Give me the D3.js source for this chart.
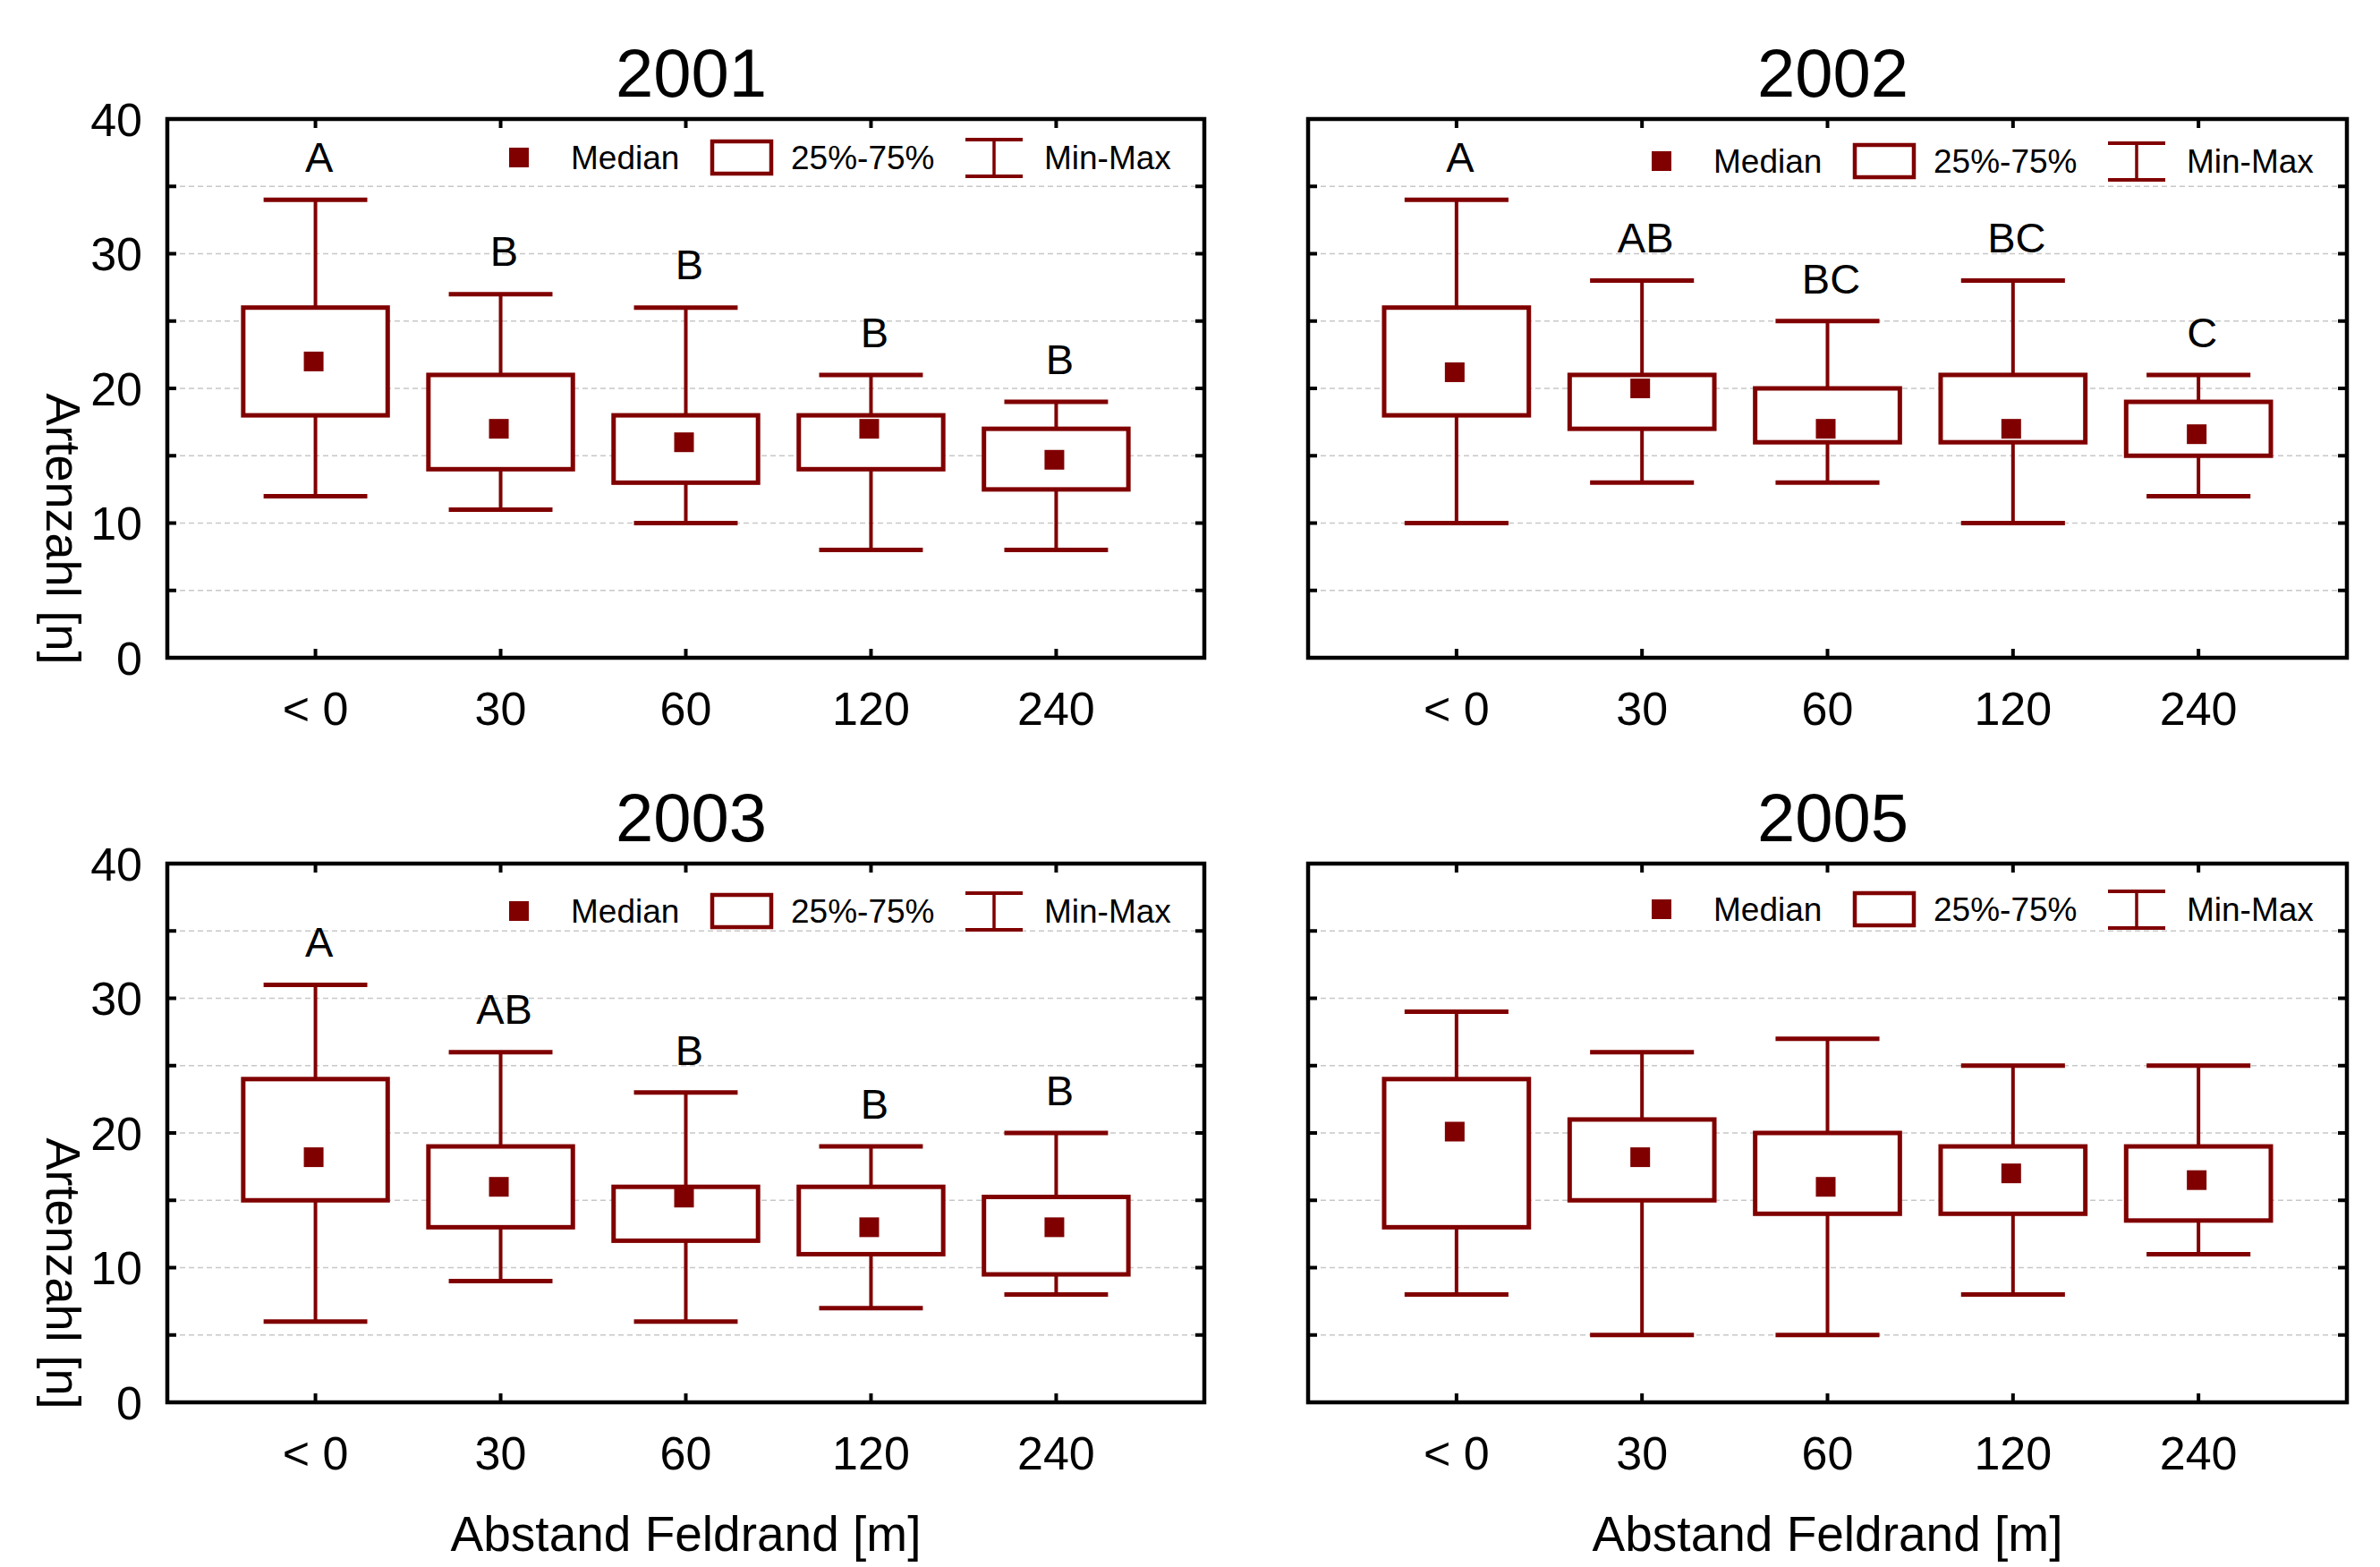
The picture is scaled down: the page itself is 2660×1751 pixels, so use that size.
<!DOCTYPE html>
<html>
<head>
<meta charset="utf-8">
<script src="https://cdn.jsdelivr.net/npm/d3@7/dist/d3.min.js"></script>
<style>
  html, body { margin: 0; padding: 0; background: #fff; }
  svg text { font-family: "Liberation Sans", Arial, sans-serif; fill: #000; }
</style>
</head>
<body>
<script>
// ---------------- DATA ----------------
const categories = ["< 0", "30", "60", "120", "240"];
const years = ["2001", "2002", "2003", "2005"];

const min2001 = [12, 11, 10, 8, 8];
const q1_2001 = [18, 14, 13, 14, 12.5];
const med2001 = [22, 17, 16, 17, 14.7];
const q3_2001 = [26, 21, 18, 18, 17];
const max2001 = [34, 27, 26, 21, 19];
const letters2001 = ["A", "B", "B", "B", "B"];

const min2002 = [10, 13, 13, 10, 12];
const q1_2002 = [18, 17, 16, 16, 15];
const med2002 = [21.2, 20, 17, 17, 16.6];
const q3_2002 = [26, 21, 20, 21, 19];
const max2002 = [34, 28, 25, 28, 21];
const letters2002 = ["A", "AB", "BC", "BC", "C"];

const min2003 = [6, 9, 6, 7, 8];
const q1_2003 = [15, 13, 12, 11, 9.5];
const med2003 = [18.2, 16, 15.2, 13, 13];
const q3_2003 = [24, 19, 16, 16, 15.25];
const max2003 = [31, 26, 23, 19, 20];
const letters2003 = ["A", "AB", "B", "B", "B"];

const min2005 = [8, 5, 5, 8, 11];
const q1_2005 = [13, 15, 14, 14, 13.5];
const med2005 = [20.1, 18.2, 16, 17, 16.5];
const q3_2005 = [24, 21, 20, 19, 19];
const max2005 = [29, 26, 27, 25, 25];
const letters2005 = ["", "", "", "", ""];

const yTicks = [0, 10, 20, 30, 40];
const gridValues = [5, 10, 15, 20, 25, 30, 35];
const legendLabels = ["Median", "25%-75%", "Min-Max"];
const yLabel = "Artenzahl [n]";
const xLabel = "Abstand Feldrand [m]";

// ---------------- LAYOUT ----------------
const W = 2660, H = 1751;
const COLOR = "#800000";
const panels = [
  { year: years[0], x0: 187,  x1: 1346, y0: 133, y1: 735,  left: true,  bottom: false, legDy: 43,
    mins: min2001, q1: q1_2001, med: med2001, q3: q3_2001, maxs: max2001, letters: letters2001 },
  { year: years[1], x0: 1462, x1: 2623, y0: 133, y1: 735,  left: false, bottom: false, legDy: 47,
    mins: min2002, q1: q1_2002, med: med2002, q3: q3_2002, maxs: max2002, letters: letters2002 },
  { year: years[2], x0: 187,  x1: 1346, y0: 965, y1: 1567, left: true,  bottom: true,  legDy: 53,
    mins: min2003, q1: q1_2003, med: med2003, q3: q3_2003, maxs: max2003, letters: letters2003 },
  { year: years[3], x0: 1462, x1: 2623, y0: 965, y1: 1567, left: false, bottom: true,  legDy: 51,
    mins: min2005, q1: q1_2005, med: med2005, q3: q3_2005, maxs: max2005, letters: letters2005 }
];

const svg = d3.select("body").append("svg")
  .attr("width", W).attr("height", H)
  .attr("viewBox", `0 0 ${W} ${H}`);

svg.append("rect").attr("width", W).attr("height", H).attr("fill", "#fff");

panels.forEach(p => {
  const g = svg.append("g");
  const x = d3.scalePoint().domain(categories).range([p.x0, p.x1]).padding(0.8);
  const y = d3.scaleLinear().domain([0, 40]).range([p.y1, p.y0]);
  const step = x.step();
  const boxW = step * 0.78;
  const capW = step * 0.56;
  const medS = 22;

  // grid
  g.selectAll(".grid").data(gridValues).join("line")
    .attr("x1", p.x0 + 4).attr("x2", p.x1 - 4)
    .attr("y1", d => y(d)).attr("y2", d => y(d))
    .attr("stroke", "#c8c8c8").attr("stroke-width", 1.5)
    .attr("stroke-dasharray", "6,4");

  // left & right inward ticks
  const sideTicks = gridValues;
  g.selectAll(".lt").data(sideTicks).join("line")
    .attr("x1", p.x0).attr("x2", p.x0 + 10)
    .attr("y1", d => y(d)).attr("y2", d => y(d))
    .attr("stroke", "#000").attr("stroke-width", 4);
  g.selectAll(".rt").data(sideTicks).join("line")
    .attr("x1", p.x1).attr("x2", p.x1 - 10)
    .attr("y1", d => y(d)).attr("y2", d => y(d))
    .attr("stroke", "#000").attr("stroke-width", 4);
  // top & bottom inward ticks at categories
  g.selectAll(".tt").data(categories).join("line")
    .attr("x1", d => x(d)).attr("x2", d => x(d))
    .attr("y1", p.y0).attr("y2", p.y0 + 10)
    .attr("stroke", "#000").attr("stroke-width", 4);
  g.selectAll(".bt").data(categories).join("line")
    .attr("x1", d => x(d)).attr("x2", d => x(d))
    .attr("y1", p.y1).attr("y2", p.y1 - 10)
    .attr("stroke", "#000").attr("stroke-width", 4);

  const rows = categories.map((c, i) => ({
    c, min: p.mins[i], q1: p.q1[i], med: p.med[i], q3: p.q3[i], max: p.maxs[i], letter: p.letters[i]
  }));

  // whisker stems
  g.selectAll(".stem").data(rows).join("line")
    .attr("x1", d => x(d.c)).attr("x2", d => x(d.c))
    .attr("y1", d => y(d.min)).attr("y2", d => y(d.max))
    .attr("stroke", COLOR).attr("stroke-width", 4);
  // caps
  ["min", "max"].forEach(k => {
    g.selectAll(".cap" + k).data(rows).join("line")
      .attr("x1", d => x(d.c) - capW / 2).attr("x2", d => x(d.c) + capW / 2)
      .attr("y1", d => y(d[k])).attr("y2", d => y(d[k]))
      .attr("stroke", COLOR).attr("stroke-width", 5);
  });
  // boxes
  g.selectAll(".box").data(rows).join("rect")
    .attr("x", d => x(d.c) - boxW / 2).attr("width", boxW)
    .attr("y", d => y(d.q3)).attr("height", d => y(d.q1) - y(d.q3))
    .attr("fill", "#fff").attr("stroke", COLOR).attr("stroke-width", 5);
  // medians
  g.selectAll(".med").data(rows).join("rect")
    .attr("x", d => x(d.c) - medS / 2 - 2).attr("width", medS)
    .attr("y", d => y(d.med) - medS / 2).attr("height", medS)
    .attr("fill", COLOR);
  // significance letters
  g.selectAll(".let").data(rows.filter(d => d.letter)).join("text")
    .attr("x", d => x(d.c) + 4).attr("y", d => y(d.max + 3.2))
    .attr("dy", "0.36em")
    .attr("text-anchor", "middle")
    .attr("font-size", 47)
    .text(d => d.letter);

  // frame
  g.append("rect")
    .attr("x", p.x0).attr("y", p.y0)
    .attr("width", p.x1 - p.x0).attr("height", p.y1 - p.y0)
    .attr("fill", "none").attr("stroke", "#000").attr("stroke-width", 4.5);

  // x tick labels
  g.selectAll(".xl").data(categories).join("text")
    .attr("x", d => x(d)).attr("y", p.y1 + 75)
    .attr("text-anchor", "middle").attr("font-size", 52)
    .text(d => d);

  // y tick labels
  if (p.left) {
    g.selectAll(".yl").data(yTicks).join("text")
      .attr("x", p.x0 - 28).attr("y", d => y(d))
      .attr("dy", "0.36em")
      .attr("text-anchor", "end").attr("font-size", 52)
      .text(d => d);
    g.append("text")
      .attr("transform", `translate(71, ${(p.y0 + p.y1) / 2 + 157}) rotate(90)`)
      .attr("dy", "0.36em")
      .attr("text-anchor", "middle").attr("font-size", 54)
      .text(yLabel);
  }
  if (p.bottom) {
    g.append("text")
      .attr("x", (p.x0 + p.x1) / 2).attr("y", p.y1 + 166)
      .attr("text-anchor", "middle").attr("font-size", 55)
      .text(xLabel);
  }

  // title
  g.append("text")
    .attr("x", (p.x0 + p.x1) / 2 + 6).attr("y", p.y0 - 25)
    .attr("text-anchor", "middle").attr("font-size", 76)
    .text(p.year);

  // legend
  const R = p.x1, cy = p.y0 + p.legDy;
  const lg = g.append("g");
  lg.append("rect").attr("x", R - 766 - 11).attr("y", cy - 11)
    .attr("width", 22).attr("height", 22).attr("fill", COLOR);
  lg.append("text").attr("x", R - 708).attr("y", cy).attr("dy", "0.36em")
    .attr("font-size", 37).text(legendLabels[0]);
  lg.append("rect").attr("x", R - 550).attr("y", cy - 18)
    .attr("width", 66).attr("height", 36)
    .attr("fill", "#fff").attr("stroke", COLOR).attr("stroke-width", 4.5);
  lg.append("text").attr("x", R - 462).attr("y", cy).attr("dy", "0.36em")
    .attr("font-size", 37).text(legendLabels[1]);
  const wx0 = R - 267, wx1 = R - 203, wxm = (wx0 + wx1) / 2;
  lg.append("line").attr("x1", wx0).attr("x2", wx1).attr("y1", cy - 20).attr("y2", cy - 20)
    .attr("stroke", COLOR).attr("stroke-width", 4);
  lg.append("line").attr("x1", wx0).attr("x2", wx1).attr("y1", cy + 21).attr("y2", cy + 21)
    .attr("stroke", COLOR).attr("stroke-width", 4);
  lg.append("line").attr("x1", wxm).attr("x2", wxm).attr("y1", cy - 20).attr("y2", cy + 21)
    .attr("stroke", COLOR).attr("stroke-width", 3.5);
  lg.append("text").attr("x", R - 179).attr("y", cy).attr("dy", "0.36em")
    .attr("font-size", 37).text(legendLabels[2]);
});
</script>
</body>
</html>
